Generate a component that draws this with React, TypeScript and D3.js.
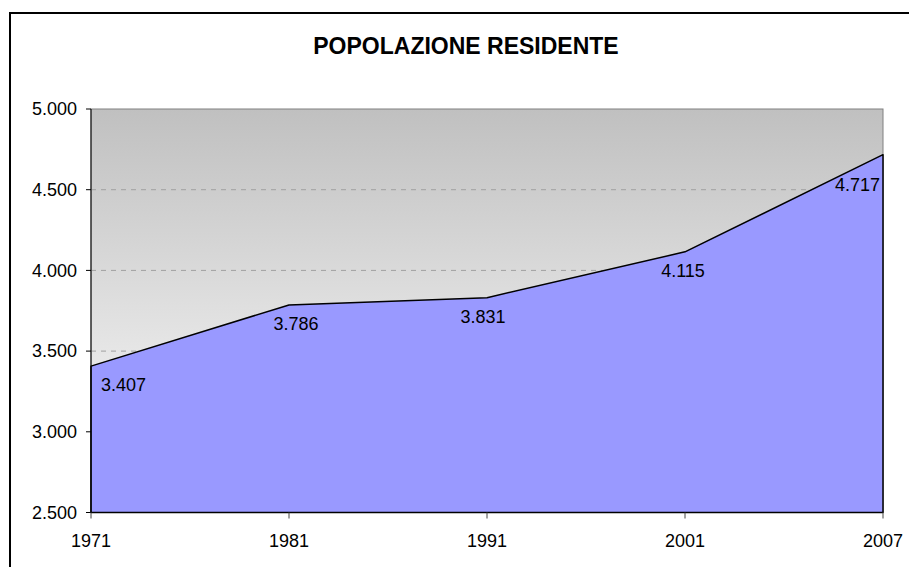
import React from "react";
import * as d3 from "d3";

const years = ["1971", "1981", "1991", "2001", "2007"];
const population = [3407, 3786, 3831, 4115, 4717];
const yTicks = [2500, 3000, 3500, 4000, 4500, 5000];

const W = 909;
const H = 567;
const margin = { top: 109, right: 26, bottom: 54.5, left: 91 };

const fmt = (v: number) => d3.format(",.0f")(v).replace(/,/g, ".");

export default function App() {
  const innerW = W - margin.left - margin.right;
  const innerH = H - margin.top - margin.bottom;

  const x = d3.scalePoint<string>().domain(years).range([0, innerW]);
  const y = d3.scaleLinear().domain([2500, 5000]).range([innerH, 0]);

  const pts = years.map((yr, i) => ({ yr, v: population[i] }));

  const area = d3
    .area<{ yr: string; v: number }>()
    .x((d) => x(d.yr)!)
    .y0(innerH)
    .y1((d) => y(d.v));

  const font = "'Liberation Sans', Arial, sans-serif";

  return (
    <svg
      width={W}
      height={H}
      style={{ position: "absolute", left: 0, top: 0, background: "#fff" }}
    >
      <defs>
        <linearGradient id="bg" x1="0" y1="0" x2="0" y2="1">
          <stop offset="0%" stopColor="#c0c0c0" />
          <stop offset="100%" stopColor="#ffffff" />
        </linearGradient>
      </defs>

      {/* outer chart border */}
      <rect x={10} y={13} width={930} height={620} fill="none" stroke="#000" strokeWidth={2} />

      <text
        x={466}
        y={54}
        textAnchor="middle"
        fontFamily={font}
        fontWeight="bold"
        fontSize={23}
      >
        POPOLAZIONE RESIDENTE
      </text>

      <g transform={`translate(${margin.left},${margin.top})`}>
        <rect width={innerW} height={innerH} fill="url(#bg)" stroke="#808080" strokeWidth={1} />

        {/* dashed gridlines */}
        {yTicks.slice(1, -1).map((t) => (
          <line
            key={t}
            x1={0}
            x2={innerW}
            y1={y(t)}
            y2={y(t)}
            stroke="#a0a0a0"
            strokeDasharray="5,5"
          />
        ))}

        <path d={area(pts)!} fill="#9999ff" stroke="#000" strokeWidth={1.5} strokeLinejoin="round" />

        {/* axes */}
        <line x1={0} x2={0} y1={0} y2={innerH} stroke="#000" />
        <line x1={0} x2={innerW} y1={innerH} y2={innerH} stroke="#000" />

        {yTicks.map((t) => (
          <g key={t} transform={`translate(0,${y(t)})`}>
            <line x1={-5} x2={0} stroke="#000" />
            <text x={-14} dy="0.35em" textAnchor="end" fontFamily={font} fontSize={18}>
              {fmt(t)}
            </text>
          </g>
        ))}

        {years.map((yr) => (
          <g key={yr} transform={`translate(${x(yr)},${innerH})`}>
            <line y1={0} y2={6} stroke="#444" />
            <text y={34} textAnchor="middle" fontFamily={font} fontSize={18}>
              {yr}
            </text>
          </g>
        ))}

        {/* data labels */}
        {pts.map((d, i) => {
          const first = i === 0;
          const last = i === pts.length - 1;
          const px = x(d.yr)! + (first ? 10 : last ? -3 : [0, 7, -4, -2][i]);
          const py = y(d.v) + (last ? 36 : 25);
          return (
            <text
              key={d.yr}
              x={px}
              y={py}
              textAnchor={first ? "start" : last ? "end" : "middle"}
              fontFamily={font}
              fontSize={18}
            >
              {fmt(d.v)}
            </text>
          );
        })}
      </g>
    </svg>
  );
}
